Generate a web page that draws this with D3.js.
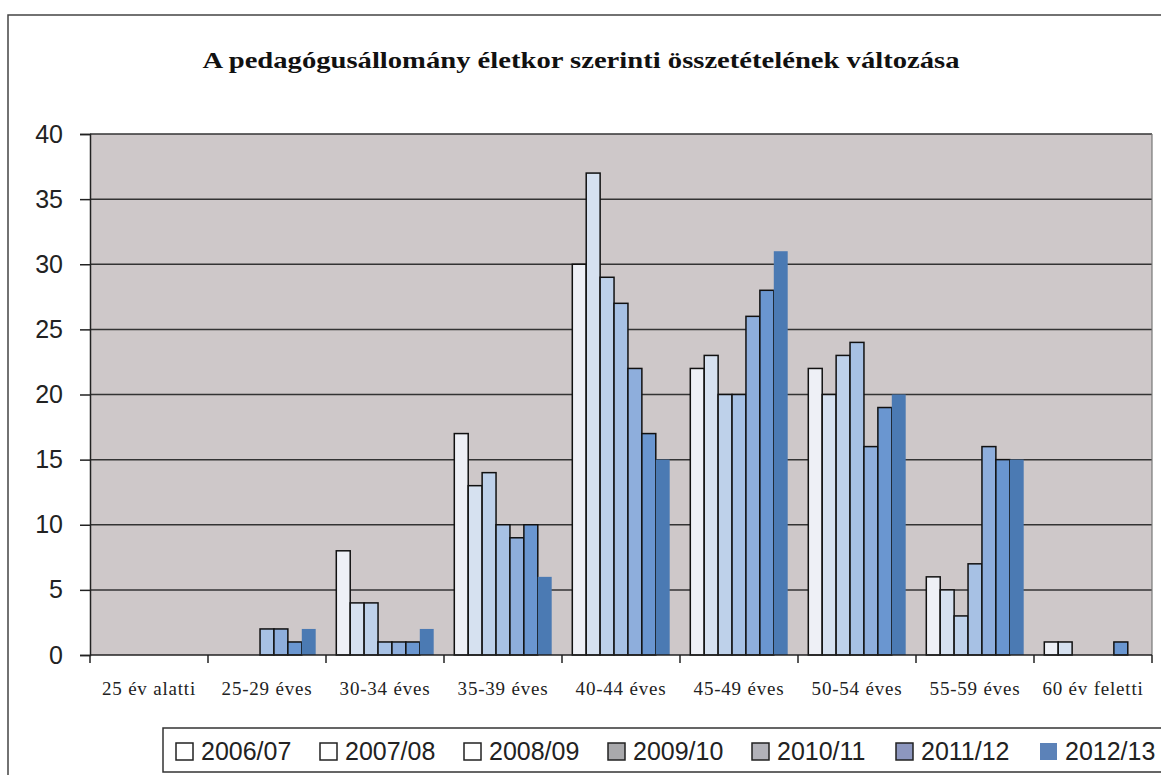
<!DOCTYPE html>
<html>
<head>
<meta charset="utf-8">
<script src="https://cdn.jsdelivr.net/npm/d3@7"></script>
<style>
  body { margin: 0; background: #fff; }
  svg { display: block; }
</style>
</head>
<body>
<svg></svg>
<script>
// categories (age groups) and school years
var categories = ["25 év alatti", "25-29 éves", "30-34 éves", "35-39 éves", "40-44 éves",
                  "45-49 éves", "50-54 éves", "55-59 éves", "60 év feletti"];
var years = ["2006/07", "2007/08", "2008/09", "2009/10", "2010/11", "2011/12", "2012/13"];

// values per year, one per age group
var v2006 = [0, 0, 8, 17, 30, 22, 22, 6, 1];
var v2007 = [0, 0, 4, 13, 37, 23, 20, 5, 1];
var v2008 = [0, 0, 4, 14, 29, 20, 23, 3, 0];
var v2009 = [0, 2, 1, 10, 27, 20, 24, 7, 0];
var v2010 = [0, 2, 1, 9, 22, 26, 16, 16, 0];
var v2011 = [0, 1, 1, 10, 17, 28, 19, 15, 1];
var v2012 = [0, 2, 2, 6, 15, 31, 20, 15, 0];
var series = [v2006, v2007, v2008, v2009, v2010, v2011, v2012];

var yTicks = [0, 5, 10, 15, 20, 25, 30, 35, 40];

var barColors = ["#eef0f6", "#d6e1f0", "#bed1ea", "#a7c1e4", "#8eaedc", "#6a96d0", "#4b7ab3"];
var legendColors = ["#ffffff", "#ffffff", "#ffffff", "#a9a9ac", "#b2b2b9", "#8d97bf", "#5c82b8"];

var title = "A pedagógusállomány életkor szerinti összetételének változása";

var W = 1161, H = 775;
var plot = {left: 90, right: 1152, top: 134, bottom: 655};

var svg = d3.select("svg").attr("width", W).attr("height", H);

// outer chart frame
svg.append("rect")
    .attr("x", 8).attr("y", 15)
    .attr("width", W + 20).attr("height", H + 20)
    .attr("fill", "#fff")
    .attr("stroke", "#444")
    .attr("stroke-width", 1.5);

// title
svg.append("text")
    .attr("x", 581).attr("y", 68)
    .attr("text-anchor", "middle")
    .attr("font-family", "Liberation Serif, serif")
    .attr("font-weight", "bold")
    .attr("font-size", 24)
    .attr("textLength", 757)
    .attr("lengthAdjust", "spacingAndGlyphs")
    .attr("fill", "#111")
    .text(title);

// scales
var x0 = d3.scaleBand().domain(categories).range([plot.left, plot.right]).padding(0);
var x1 = d3.scaleBand().domain(years).range([0, x0.bandwidth()])
    .paddingInner(0).paddingOuter(0.74);
var y = d3.scaleLinear().domain([0, 40]).range([plot.bottom, plot.top]);

// plot background
svg.append("rect")
    .attr("x", plot.left).attr("y", plot.top)
    .attr("width", plot.right - plot.left)
    .attr("height", plot.bottom - plot.top)
    .attr("fill", "#cec8c9");

// gridlines
svg.append("g")
  .selectAll("line")
  .data(yTicks.filter(function(d) { return d > 0; }))
  .enter().append("line")
    .attr("x1", plot.left).attr("x2", plot.right)
    .attr("y1", function(d) { return y(d); })
    .attr("y2", function(d) { return y(d); })
    .attr("stroke", "#333")
    .attr("stroke-width", 1.5);

// right border of plot
svg.append("line")
    .attr("x1", plot.right).attr("x2", plot.right)
    .attr("y1", plot.top).attr("y2", plot.bottom)
    .attr("stroke", "#777")
    .attr("stroke-width", 1.2);

// bars
var groups = svg.append("g")
  .selectAll("g")
  .data(categories)
  .enter().append("g")
    .attr("transform", function(d) { return "translate(" + x0(d) + ",0)"; });

groups.selectAll("rect")
  .data(function(c, ci) {
      return years.map(function(yr, si) { return {year: yr, si: si, value: series[si][ci]}; })
          .filter(function(d) { return d.value > 0; });
  })
  .enter().append("rect")
    .attr("x", function(d) { return x1(d.year); })
    .attr("y", function(d) { return y(d.value); })
    .attr("width", x1.bandwidth())
    .attr("height", function(d) { return y(0) - y(d.value); })
    .attr("fill", function(d) { return barColors[d.si]; })
    .attr("stroke", function(d) { return d.si === 6 ? "none" : "#111"; })
    .attr("stroke-width", 1.5);

// y axis
var yAxis = svg.append("g")
    .attr("transform", "translate(" + plot.left + ",0)")
    .call(d3.axisLeft(y).tickValues(yTicks).tickSize(10).tickPadding(17));
yAxis.select(".domain").attr("stroke", "#222").attr("stroke-width", 1.5);
yAxis.selectAll(".tick line").attr("stroke", "#222").attr("stroke-width", 1.5);
yAxis.selectAll("text")
    .attr("font-family", "Liberation Sans, Arial, sans-serif")
    .attr("font-size", 25)
    .attr("fill", "#222");

// x axis (ticks at category boundaries)
var xAxis = svg.append("g")
    .attr("transform", "translate(0," + plot.bottom + ")");
xAxis.append("line")
    .attr("x1", plot.left).attr("x2", plot.right)
    .attr("stroke", "#222").attr("stroke-width", 1.5);
xAxis.selectAll("line.tick")
  .data(categories.concat(["end"]))
  .enter().append("line")
    .attr("class", "tick")
    .attr("x1", function(d, i) { return i < categories.length ? x0(d) : plot.right; })
    .attr("x2", function(d, i) { return i < categories.length ? x0(d) : plot.right; })
    .attr("y1", 0).attr("y2", 8)
    .attr("stroke", "#222").attr("stroke-width", 1.5);
xAxis.selectAll("text")
  .data(categories)
  .enter().append("text")
    .attr("x", function(d) { return x0(d) + x0.bandwidth() / 2; })
    .attr("y", 40)
    .attr("text-anchor", "middle")
    .attr("font-family", "Liberation Serif, serif")
    .attr("font-size", 19)
    .attr("letter-spacing", 0.8)
    .attr("fill", "#222")
    .text(function(d) { return d; });

// legend
var legend = svg.append("g");
legend.append("rect")
    .attr("x", 163).attr("y", 728)
    .attr("width", 1020).attr("height", 44)
    .attr("fill", "#fff")
    .attr("stroke", "#333")
    .attr("stroke-width", 1.5);

var items = legend.selectAll("g.item")
  .data(years)
  .enter().append("g")
    .attr("class", "item")
    .attr("transform", function(d, i) { return "translate(" + (176 + i * 144) + ",743)"; });

items.append("rect")
    .attr("width", 17).attr("height", 17)
    .attr("fill", function(d, i) { return legendColors[i]; })
    .attr("stroke", function(d, i) { return i === 6 ? "none" : "#222"; })
    .attr("stroke-width", 1.5);

items.append("text")
    .attr("x", 25).attr("y", 17)
    .attr("font-family", "Liberation Sans, Arial, sans-serif")
    .attr("font-size", 25)
    .attr("fill", "#222")
    .text(function(d) { return d; });
</script>
</body>
</html>
